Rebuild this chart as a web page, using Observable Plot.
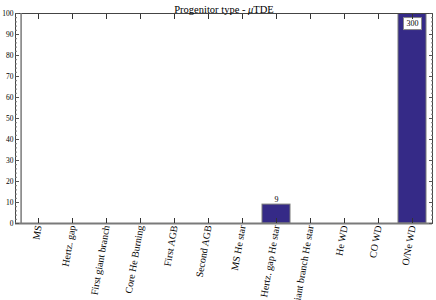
<!DOCTYPE html>
<html><head><meta charset="utf-8">
<script src="https://cdn.jsdelivr.net/npm/d3@7"></script>
<script src="https://cdn.jsdelivr.net/npm/@observablehq/plot@0.6"></script>
<style>body{margin:0;background:#fff} #chart svg{font-family:"Liberation Serif","DejaVu Serif",serif;overflow:visible}</style>
</head><body><div id="chart"></div>
<script>
const categories = ["MS","Hertz. gap","First giant branch","Core He Burning","First AGB","Second AGB","MS He star","Hertz. gap He star","Giant branch He star","He WD","CO WD","O/Ne WD"];
const counts = [0,0,0,0,0,0,0,9,0,0,0,300];
const yMajorTicks = [0,10,20,30,40,50,60,70,80,90,100];
const yMinorTicks = [2,4,6,8,12,14,16,18,22,24,26,28,32,34,36,38,42,44,46,48,52,54,56,58,62,64,66,68,72,74,76,78,82,84,86,88,92,94,96,98];
const yMax = 100;
const title = "Progenitor type - μTDE";

const data = categories.map((c, i) => ({cat: c, n: counts[i]}));
const labelAbove = data.filter(d => d.n > 0 && d.n <= yMax);
const labelInside = data.filter(d => d.n > yMax);
const axisGray = "#7a7a7a";

const plot = Plot.plot({
  width: 436,
  height: 300,
  marginLeft: 15,
  marginRight: 4,
  marginTop: 13,
  marginBottom: 77,
  style: {fontFamily: "'Liberation Serif','DejaVu Serif',serif", background: "white", color: "black"},
  x: {domain: categories, range: [15.6, 433.9], padding: 0.18, label: null},
  y: {domain: [0, yMax], label: null},
  marks: [
    Plot.barY(data, {x: "cat", y: "n", fill: "#352a87", stroke: axisGray, strokeWidth: 1, clip: true}),
    Plot.text(labelAbove, {x: "cat", y: "n", text: d => String(d.n), dy: -5, fontSize: 8, fill: "black"}),
    Plot.text(labelInside, {x: "cat", y: () => yMax, text: d => String(d.n), dy: 10, fontSize: 8, fill: "black", className: "boxed"}),
    Plot.frame({stroke: "#444", strokeWidth: 1}),
    Plot.ruleY([0], {stroke: axisGray, strokeWidth: 2}),
    Plot.ruleX([categories[0]], {stroke: axisGray, strokeWidth: 1.5, dx: -17.4}),
    Plot.axisY({ticks: yMajorTicks, tickSize: 0, tickPadding: 2, fontSize: 7.5, anchor: "left", fill: "black", label: null}),
    Plot.axisY({ticks: yMajorTicks, tickSize: -4, text: null, anchor: "left", stroke: "#555", label: null}),
    Plot.axisY({ticks: yMajorTicks, tickSize: -4, text: null, anchor: "right", stroke: "#555", label: null}),
    Plot.axisY({ticks: yMinorTicks, tickSize: -2, text: null, anchor: "left", stroke: "#777", label: null}),
    Plot.axisY({ticks: yMinorTicks, tickSize: -2, text: null, anchor: "right", stroke: "#777", label: null}),
    Plot.axisX({anchor: "bottom", tickSize: 0, tickPadding: 2, tickRotate: -80, fontSize: 10, fill: "black", label: null}),
    Plot.axisX({anchor: "bottom", tickSize: -5, text: null, stroke: "#333", label: null}),
    Plot.axisX({anchor: "top", tickSize: -5, text: null, stroke: "#333", label: null}),
    Plot.text([title], {frameAnchor: "top", dy: -8, fontSize: 10.5, fill: "black", className: "title"})
  ]
});
document.getElementById("chart").append(plot);

// italic mu in title
d3.select(plot).selectAll(".title text").each(function () {
  const t = d3.select(this);
  const s = t.text();
  const k = s.indexOf("μ");
  if (k < 0) return;
  t.text(null);
  t.append("tspan").text(s.slice(0, k));
  t.append("tspan").attr("font-style", "italic").text("μ");
  t.append("tspan").text(s.slice(k + 1));
});

// white boxes behind the inside labels
d3.select(plot).selectAll(".boxed text").each(function () {
  const b = this.getBBox();
  const tr = this.getAttribute("transform");
  d3.select(this.parentNode).insert("rect", () => this)
    .attr("transform", tr)
    .attr("x", b.x - 3).attr("y", b.y - 1.5)
    .attr("width", b.width + 6).attr("height", b.height + 3)
    .attr("fill", "white").attr("stroke", "#888").attr("stroke-width", 1);
});
</script>
</body></html>
